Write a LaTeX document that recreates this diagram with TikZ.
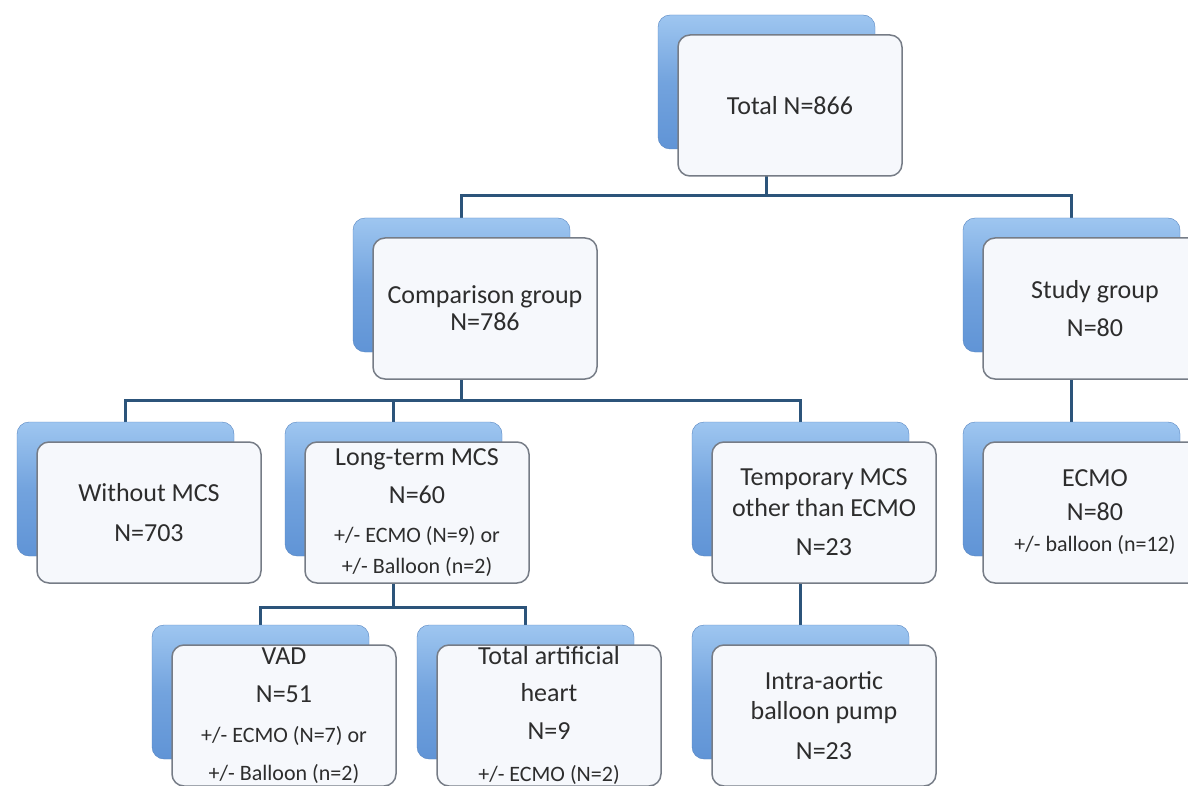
\documentclass[tikz,border=0pt]{standalone}
\usepackage{fontspec}
\setmainfont{Carlito}
\usetikzlibrary{backgrounds, positioning}

\definecolor{linkblue}{RGB}{44,84,122}
\definecolor{backtop}{RGB}{158,198,240}
\definecolor{backbot}{RGB}{96,148,214}
\definecolor{frontfill}{RGB}{246,248,252}
\definecolor{frontline}{RGB}{118,124,134}
\definecolor{txt}{RGB}{45,45,45}

\newcommand{\smalltxt}{\fontsize{22}{30}\selectfont}

\begin{document}
\begin{tikzpicture}[
        x=1pt, y=-1pt,
        back/.style={rounded corners=12pt, top color=backtop, bottom color=backbot,
            middle color=backbot!70!backtop,
            draw=backbot!90!black, line width=0.4pt,
            minimum width=217pt, minimum height=134pt, inner sep=0pt},
        front/.style={rounded corners=12pt, fill=frontfill, draw=frontline, line width=1.5pt,
            minimum width=224pt, minimum height=141pt, inner xsep=2pt, inner ysep=0pt,
            align=center, text=txt, font=\fontsize{26}{30}\selectfont},
        link/.style={draw=linkblue, line width=3pt}
    ]

    \tikzset{
    onfront/.style={xshift=23.5pt, yshift=-23.5pt}
}

    \useasboundingbox (0,0) rectangle (1188,786);
    \clip (0,0) rectangle (1188,786);

    % blue cards
    \node[back] (total) at (766.5,82) {};
    \node[front] (totalT) at ([onfront]total.center) {Total N=866};

    \node[back] (cmp) at (461.5,285) {};
    \node[front] (cmpT) at ([onfront]cmp.center) {Comparison group\\[-3pt]N=786};

    \node[back] (study) at (1071.5,285) {};
    \node[front] (studyT) at ([onfront]study.center) {Study group\\[8pt]N=80};

    \node[back] (without) at (125.5,489) {};
    \node[front] (withoutT) at ([onfront]without.center) {Without MCS\\[10pt]N=703};

    \node[back] (longterm) at (393.5,489) {};
    \node[front] (longtermT) at ([onfront]longterm.center)
        {Long-term MCS\\[8pt]N=60\\[9pt]{\smalltxt +/- ECMO (N=9) or}\\[1pt]{\smalltxt +/- Balloon (n=2)}};

    \node[back] (temp) at (800.5,489) {};
    \node[front] (tempT) at ([onfront]temp.center) {Temporary MCS\\[1pt]other than ECMO\\[9pt]N=23};

    \node[back] (ecmo) at (1071.5,489) {};
    \node[front] (ecmoT) at ([onfront]ecmo.center) {ECMO\\[4pt]N=80\\[1pt]{\smalltxt +/- balloon (n=12)}};

    \node[back] (vad) at (260.5,692) {};
    \node[front] (vadT) at ([onfront]vad.center)
        {VAD\\[8pt]N=51\\[10pt]{\smalltxt +/- ECMO (N=7) or}\\[8pt]{\smalltxt +/- Balloon (n=2)}};

    \node[back] (tah) at (525.5,692) {};
    \node[front] (tahT) at ([onfront]tah.center)
        {Total artificial\\[7pt]heart\\[8pt]N=9\\[12pt]{\smalltxt +/- ECMO (N=2)}};

    \node[back] (iabp) at (800.5,692) {};
    \node[front] (iabpT) at ([onfront]iabp.center) {Intra-aortic\\balloon pump\\[10pt]N=23};

    % connectors behind the cards
    \begin{scope}[on background layer]
    \fill[white] (0,0) rectangle (1188,786);
    \coordinate (busA) at (0,196);
    \coordinate (busB) at (0,400);
    \coordinate (busC) at (0,607);

    \draw[link] (total) -- (total |- busA) -| (cmp);
    \draw[link] (total |- busA) -| (study);
    \draw[link] (cmp) -- (cmp |- busB) -| (without);
    \draw[link] (cmp |- busB) -| (longterm);
    \draw[link] (cmp |- busB) -| (temp);
    \draw[link] (longterm) -- (longterm |- busC) -| (vad);
    \draw[link] (longterm |- busC) -| (tah);
    \draw[link] (temp) -- (iabp);
    \draw[link] (study) -- (ecmo);
    \end{scope}
\end{tikzpicture}
\end{document}
